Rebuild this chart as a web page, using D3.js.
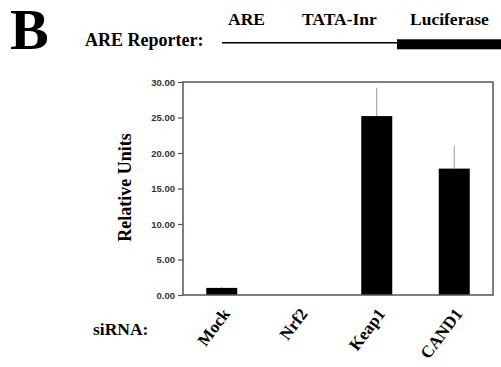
<!DOCTYPE html>
<html>
<head>
<meta charset="utf-8">
<script src="https://cdn.jsdelivr.net/npm/d3@7"></script>
<style>
  body { margin: 0; background: #fff; }
  svg { display: block; }
  .serif { font-family: "Liberation Serif", "Times New Roman", serif; font-weight: bold; }
</style>
</head>
<body>
<div id="chart"></div>
<script>
// chart data
const categories = ['Mock', 'Nrf2', 'Keap1', 'CAND1'];
const values = [1.0, 0, 25.2, 17.8];
const errors = [0.15, 0, 4.0, 3.2];
const yTicks = [0, 5, 10, 15, 20, 25, 30];
const constructParts = ['ARE', 'TATA-Inr', 'Luciferase'];

const W = 501, H = 367;
const margin = { top: 82, right: 8, bottom: 72, left: 183 };

const svg = d3.select('#chart')
    .append('svg')
    .attr('width', W)
    .attr('height', H);

// header: panel letter and reporter construct
svg.append('text').attr('class', 'serif')
    .attr('x', 10).attr('y', 48.5)
    .attr('font-size', 58)
    .text('B');

svg.append('text').attr('class', 'serif')
    .attr('x', 85).attr('y', 46)
    .attr('font-size', 18)
    .text('ARE Reporter:');

svg.append('line')
    .attr('x1', 222).attr('x2', 397)
    .attr('y1', 42.7).attr('y2', 42.7)
    .attr('stroke', '#000').attr('stroke-width', 1.6);

svg.append('rect')
    .attr('x', 397).attr('y', 39.3)
    .attr('width', W - 397).attr('height', 10)
    .attr('fill', '#000');

const partX = [228, 302, 410];
svg.selectAll('.part')
    .data(constructParts)
    .enter().append('text')
    .attr('class', 'serif part')
    .attr('x', (d, i) => partX[i]).attr('y', 24.5)
    .attr('font-size', 17.5)
    .text(d => d);

// scales
const x = d3.scaleBand()
    .domain(categories)
    .range([margin.left, W - margin.right])
    .paddingInner(0.6)
    .paddingOuter(0.3);

const y = d3.scaleLinear()
    .domain([0, 30])
    .range([H - margin.bottom, margin.top]);

// error bars (upper whisker only)
svg.selectAll('.err')
    .data(categories.filter((d, i) => errors[i] > 0))
    .enter().append('line')
    .attr('class', 'err')
    .attr('x1', d => x(d) + x.bandwidth() / 2)
    .attr('x2', d => x(d) + x.bandwidth() / 2)
    .attr('y1', d => y(values[categories.indexOf(d)]))
    .attr('y2', d => { const i = categories.indexOf(d); return y(values[i] + errors[i]); })
    .attr('stroke', '#999').attr('stroke-width', 1);

// bars
svg.selectAll('.bar')
    .data(categories)
    .enter().append('rect')
    .attr('class', 'bar')
    .attr('x', d => x(d))
    .attr('width', x.bandwidth())
    .attr('y', (d, i) => y(values[i]))
    .attr('height', (d, i) => y(0) - y(values[i]))
    .attr('fill', '#000');

// plot frame
svg.append('rect')
    .attr('x', margin.left).attr('y', margin.top)
    .attr('width', W - margin.right - margin.left)
    .attr('height', H - margin.bottom - margin.top)
    .attr('fill', 'none')
    .attr('stroke', '#555').attr('stroke-width', 1.5);

// y axis
const yAxis = svg.append('g')
    .attr('transform', 'translate(' + margin.left + ',0)')
    .call(d3.axisLeft(y).tickValues(yTicks).tickFormat(d3.format('.2f')).tickSize(5).tickPadding(3));
yAxis.select('.domain').remove();
yAxis.selectAll('line').attr('stroke', '#555').attr('stroke-width', 1.2);
yAxis.selectAll('text')
    .attr('font-family', '"Liberation Sans", Arial, sans-serif')
    .attr('font-weight', 'bold')
    .attr('font-size', 9.5)
    .attr('fill', '#333');

svg.append('text').attr('class', 'serif')
    .attr('transform', 'translate(131,' + (y(15) - 1) + ') rotate(-90)')
    .attr('text-anchor', 'middle')
    .attr('font-size', 18)
    .text('Relative Units');

// x labels
svg.selectAll('.xlab')
    .data(categories)
    .enter().append('text')
    .attr('class', 'serif xlab')
    .attr('text-anchor', 'end')
    .attr('transform', d => 'translate(' + (x(d) + x.bandwidth() / 2 + 9) + ',314) rotate(-53)')
    .attr('font-size', 17)
    .text(d => d);

svg.append('text').attr('class', 'serif')
    .attr('x', 93).attr('y', 335)
    .attr('font-size', 17.5)
    .text('siRNA:');
</script>
</body>
</html>
